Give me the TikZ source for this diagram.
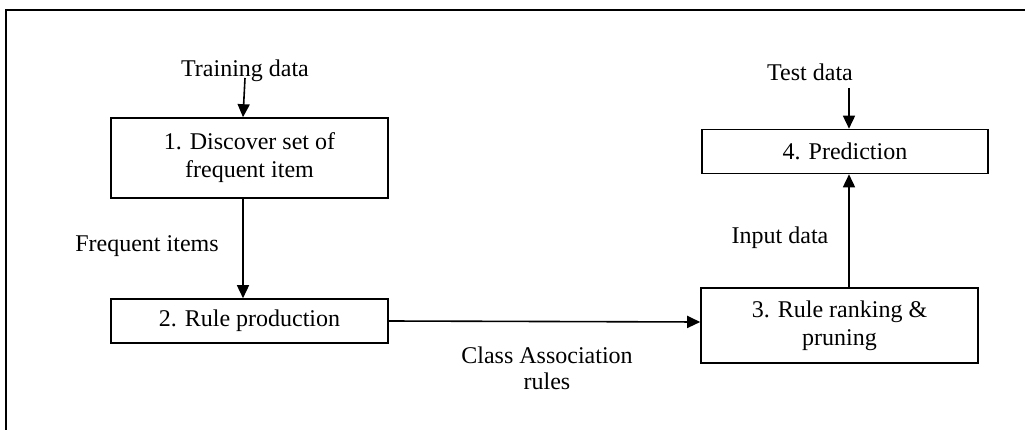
\documentclass[tikz,border=0pt]{standalone}
\usepackage{fontspec}
\setmainfont{Liberation Serif}
\usetikzlibrary{arrows.meta,calc}
\begin{document}
\begin{tikzpicture}[x=1pt,y=-1pt,
  stepbox/.style={draw,line width=1.6pt,align=center,inner sep=0pt,font=\fontsize{24}{28}\selectfont},
  lbl/.style={align=center,inner sep=0pt,font=\fontsize{24}{26}\selectfont},
  arr/.style={line width=1.6pt,-{Triangle[length=13pt,width=12pt]}},
  frame/.style={line width=1.6pt}]
\useasboundingbox (0,0) rectangle (1025,430);
\draw[frame] (6,431) -- (6,10) -- (1026,10);
% boxes
\node[stepbox,minimum width=277pt,minimum height=80pt] (b1) at (249.5,158) {1. Discover set of\\frequent item};
\node[stepbox,minimum width=277pt,minimum height=44pt] (b2) at (249.5,321) {2. Rule production};
\node[stepbox,minimum width=277pt,minimum height=75pt] (b3) at (839.5,325.5) {3. Rule ranking \&\\pruning};
\node[stepbox,minimum width=286pt,minimum height=44pt] (b4) at (845,151.5) {4. Prediction};
% labels
\node[lbl] (ltrain) at (245,71) {Training data};
\node[lbl] (ltest) at (810,72) {Test data};
\node[lbl] (lfreq) at (147,246) {Frequent items};
\node[lbl] (linput) at (780,238) {Input data};
\node[lbl] (lcar) at (547,368) {Class Association\\rules};
% connectors
\coordinate (trs) at (245,78);
\coordinate (tes) at (849,88);
\draw[arr] (trs) -- ([xshift=-6.5pt]b1.north);
\draw[arr] (tes) -- (tes |- b4.north);
\draw[arr] ([xshift=-6.5pt]b1.south) -- ([xshift=-6.5pt]b2.north);
\draw[arr] (b2.east) -- ($(b3.west)+(0,-3.5)$);
\draw[arr] (tes |- b3.north) -- (tes |- b4.south);
\end{tikzpicture}
\end{document}
